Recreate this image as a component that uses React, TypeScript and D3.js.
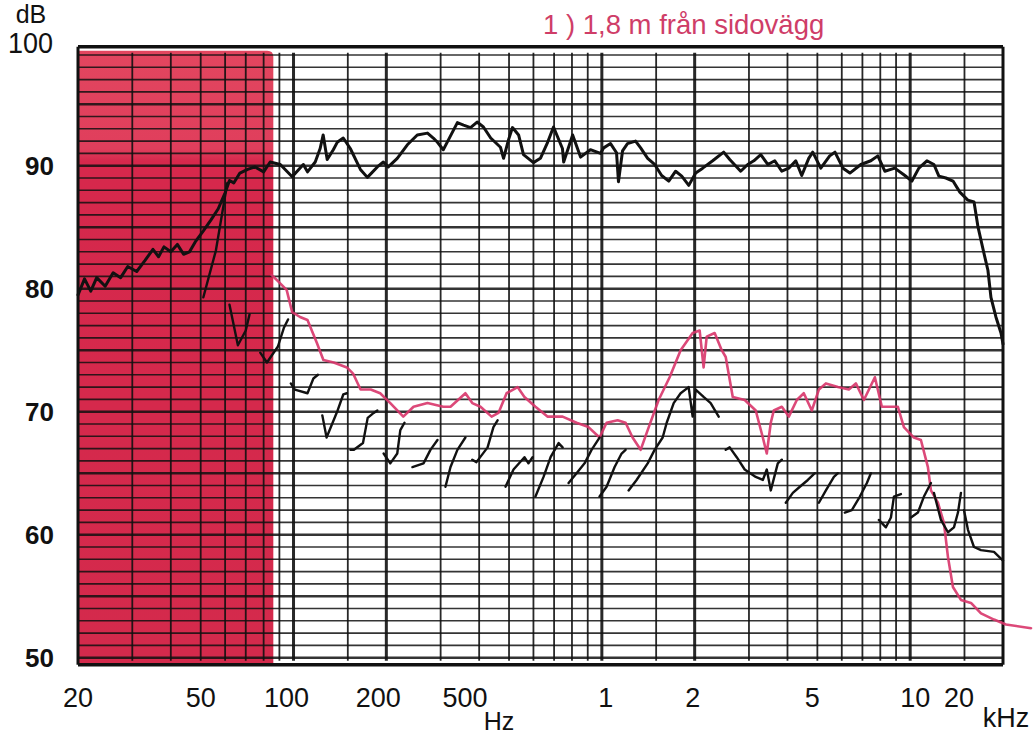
import React from 'react';
import * as d3 from 'd3';

type Pt = [number, number];

// upper black response: [Hz, dB]
const mainCurve: Pt[] = [
  [20, 79.5], [21, 80.8], [22, 79.8], [23, 80.9], [24.5, 80.2], [26, 81.3], [27.5, 80.9],
  [29, 81.8], [31, 81.4], [33, 82.3], [35, 83.2], [36.5, 82.6], [38, 83.4], [40, 83.0],
  [42, 83.6], [44, 82.8], [46, 83.0], [48, 83.8], [51, 84.7], [54, 85.6], [57, 86.5],
  [60, 87.8], [62, 88.8], [64, 88.6], [67, 89.4], [71, 89.7], [75, 89.9], [80, 89.5],
  [84, 90.3], [90.6, 90.1], [99, 89.1], [107.6, 90.1], [111, 89.5], [117.6, 90.3],
  [122, 91.4], [124.8, 92.5], [128.6, 90.5], [134.6, 91.3], [138.6, 91.9], [145, 92.25],
  [152.8, 91.4], [164.8, 89.7], [173.6, 89.05], [187, 89.9], [195.6, 90.3], [203, 89.9],
  [217, 90.6], [234, 91.7], [252, 92.5], [272, 92.65], [284, 92.25], [293, 91.9],
  [306, 91.3], [318, 92.1], [340, 93.5], [356, 93.3], [375, 93.1], [394, 93.55],
  [413, 93.15], [436, 92.25], [469, 91.5], [480, 90.6], [498, 92.1], [513, 93.1],
  [537, 92.5], [557, 90.9], [600, 90.25], [632, 90.6], [667, 91.9], [697, 93.15],
  [745, 91.4], [752, 90.3], [804, 92.5], [853, 90.7], [918, 91.3], [990, 91.0],
  [1014, 91.45], [1067, 91.8], [1116, 91.05], [1132, 88.7], [1167, 91.2], [1211, 91.8],
  [1286, 92.0], [1336, 91.45], [1408, 90.6], [1483, 90.1], [1563, 89.2], [1648, 88.75],
  [1735, 89.55], [1816, 89.15], [1914, 88.4], [2015, 89.4], [2124, 89.8], [2288, 90.4],
  [2484, 91.1], [2599, 90.5], [2820, 89.55], [2972, 90.1], [3111, 90.4], [3277, 90.9],
  [3453, 90.1], [3638, 90.4], [3833, 89.55], [4038, 89.8], [4255, 90.4], [4449, 89.2],
  [4688, 90.6], [4830, 91.1], [5129, 89.8], [5483, 90.8], [5701, 91.1], [6054, 89.8],
  [6375, 89.4], [6919, 90.1], [7453, 90.4], [7853, 90.8], [8275, 89.55], [8913, 89.8],
  [9611, 89.2], [10130, 88.75], [10670, 89.8], [11330, 90.4], [11940, 90.1], [12390, 89.15],
  [13060, 89.0], [13770, 88.75], [14490, 87.85], [15380, 87.2], [16110, 87.05], [16600, 85.0],
  [17340, 82.9], [17870, 81.5], [18280, 79.3], [18970, 77.7], [19700, 76.4], [20000, 75.5],
];

// lower black sweep, null = pen lift
const lowerCurve: (Pt | null)[] = [
  [51, 79.3], [56, 83.1], [61, 88.6], null,
  [62, 78.7], [66, 75.4], [70, 76.6], [72, 77.9], null,
  [78, 74.8], [82, 74.0], [89, 75.3], [93, 76.8], [96, 77.5], null,
  [98, 72.3], [101, 71.8], [111, 71.5], [116, 72.7], [120, 73.0], null,
  [124, 69.7], [128, 67.9], [139, 70.1], [145, 71.4], [149, 71.5], null,
  [153, 66.9], [157, 66.9], [168, 67.45], [174, 69.5], [182, 69.9], [187, 70.1], null,
  [196, 66.6], [206, 65.8], [217, 66.6], [222, 68.5], [229, 69.1], null,
  [243, 65.5], [264, 65.8], [278, 66.9], [293, 67.7], null,
  [311, 63.9], [323, 65.5], [340, 66.9], [361, 67.9], null,
  [380, 66.1], [392, 65.9], [426, 67.1], [445, 68.75], [459, 69.3], null,
  [487, 63.9], [517, 65.3], [561, 66.3], [578, 65.8], [596, 66.3], null,
  [609, 63.1], [647, 64.7], [682, 66.3], [724, 67.45], [746, 67.1], null,
  [780, 64.2], [828, 65.0], [879, 65.8], [926, 66.9], [983, 67.9], null,
  [983, 63.1], [1036, 63.9], [1100, 65.5], [1159, 66.6], [1194, 66.9], null,
  [1221, 63.6], [1296, 64.45], [1408, 65.8], [1483, 66.9], [1575, 67.9], [1623, 69.1],
  [1710, 70.7], [1801, 71.5], [1912, 72.0], [1970, 69.6], [2015, 71.8], [2138, 71.2],
  [2254, 70.7], [2393, 69.6], null,
  [2522, 66.9], [2598, 67.1], [2738, 66.3], [2906, 65.3], [3156, 64.7], [3327, 64.45],
  [3427, 65.3], [3531, 63.6], [3721, 65.8], [3834, 66.1], null,
  [3950, 62.6], [4163, 63.4], [4387, 63.9], [4657, 64.45], [4907, 65.0], null,
  [5057, 62.6], [5329, 63.6], [5657, 64.7], [5829, 65.0], null,
  [6138, 61.8], [6468, 62.0], [6868, 63.1], [7237, 64.2], [7457, 65.0], null,
  [7916, 61.2], [8342, 60.6], [8660, 61.4], [8857, 63.1], [9333, 63.3], null,
  [10058, 61.4], [10595, 61.8], [11081, 63.1], [11677, 64.2], null,
  [11940, 63.4], [12582, 61.2], [13258, 60.2], [13866, 60.6], [14288, 61.8], [14610, 63.4], null,
  [14942, 62.0], [15396, 60.4], [16102, 59.0], [16968, 58.75], [18698, 58.6], [20000, 57.9],
];

// red curve (1,8 m from side wall)
const redCurve: Pt[] = [
  [85, 81.1], [90, 80.5], [95, 79.9], [99, 78.1], [105, 77.7], [111, 77.45], [119, 75.6],
  [125, 74.2], [135, 74.0], [149, 73.6], [156, 73.1], [165, 71.8], [178, 71.8], [191, 71.5],
  [206, 70.7], [227, 69.6], [245, 70.4], [272, 70.7], [306, 70.4], [323, 70.4], [361, 71.5],
  [380, 70.7], [404, 70.4], [439, 69.6], [462, 69.9], [491, 71.5], [533, 72.0], [561, 71.2],
  [609, 70.4], [666, 69.6], [746, 69.6], [828, 69.1], [905, 68.75], [983, 67.9], [1036, 69.1],
  [1125, 69.3], [1194, 69.1], [1258, 67.9], [1336, 66.9], [1408, 68.5], [1528, 70.95],
  [1659, 72.8], [1801, 75.0], [1970, 76.4], [2076, 76.6], [2138, 73.6], [2188, 76.1],
  [2322, 76.4], [2448, 75.0], [2522, 74.45], [2658, 71.2], [2906, 70.95], [3156, 70.1],
  [3327, 67.9], [3427, 66.6], [3531, 69.1], [3611, 70.1], [3834, 70.4], [4040, 69.6],
  [4289, 70.95], [4518, 71.5], [4796, 70.1], [5057, 71.8], [5329, 72.3], [5829, 72.0],
  [6325, 71.8], [6665, 72.3], [7077, 70.95], [7682, 72.8], [8094, 70.4], [8789, 70.4],
  [9122, 70.4], [9541, 68.75], [10280, 67.9], [10834, 67.7], [11416, 65.5], [11677, 63.6],
  [12304, 62.6], [12868, 60.95], [13258, 58.2], [13762, 55.75], [14610, 54.7], [15748, 54.45],
  [16968, 53.6], [18698, 53.1], [20450, 52.7], [24660, 52.4],
];

const yTicks = [100, 90, 80, 70, 60, 50];
const xTickFreqs = [20, 50, 100, 200, 500, 1000, 2000, 5000, 10000, 20000];
const xTickLabels = ['20', '50', '100', '200', '500', '1', '2', '5', '10', '20'];
const decades = [10, 100, 1000, 10000];
const gridSteps = [1, 1.5, 2, 3, 4, 5, 6, 7, 8, 9];
const heavyFreqs = [100, 200, 1000, 2000, 10000];
const shadedRange = [20, 86]; // Hz, red block
const title = '1 ) 1,8 m från sidovägg';

const W = 1034;
const H = 737;
const FONT = '"Liberation Sans", Arial, sans-serif';

// where the printed labels actually sit relative to their grid line
const labelNudge: Record<string, number> = { '100': -7, '200': -8, '500': -44, '1': 4, '2': -2, '5': -5, '10': 5, '20k': -44 };

export default function App() {
  const x = d3.scaleLog().domain([20, 20000]).range([78, 1003]);
  const y = d3.scaleLinear().domain([50, 100]).range([657.7, 42.7]);

  const gridFreqs: number[] = [];
  decades.forEach(d => gridSteps.forEach(m => {
    const f = d * m;
    if (f > 20 && f < 20000) gridFreqs.push(f);
  }));
  const dbLines = d3.range(50, 100);

  const line = d3.line<Pt>().x(d => x(d[0])).y(d => y(d[1]));
  const gapLine = d3.line<Pt | null>()
    .defined(d => d !== null)
    .x(d => x((d as Pt)[0]))
    .y(d => y((d as Pt)[1]));

  const top = y(100) + 4;
  const bottom = y(50) + 7;
  const left = x(20);
  const right = x(20000);
  const base100 = y(100) + 10;

  return (
    <svg width={W} height={H} viewBox={`0 0 ${W} ${H}`}
      style={{ position: 'fixed', left: 0, top: 0, background: '#fff' }}>
      <defs>
        <linearGradient id="redFill" x1="0" y1="0" x2="0" y2="1">
          <stop offset="0" stopColor="#e2465f" />
          <stop offset="0.16" stopColor="#e03e5c" />
          <stop offset="0.18" stopColor="#d6284c" />
          <stop offset="1" stopColor="#d42a4c" />
        </linearGradient>
      </defs>

      {/* red low-frequency block */}
      <path
        d={`M${left},${top + 4} H${x(shadedRange[1]) - 6} Q${x(shadedRange[1])},${top + 4} ${x(shadedRange[1])},${top + 10} V${bottom} H${left} Z`}
        fill="url(#redFill)" />

      {/* horizontal grid, 1 dB */}
      {dbLines.map(v => (
        <line key={'h' + v} x1={left} x2={right} y1={y(v)} y2={y(v)}
          stroke="#111" strokeOpacity={0.85} strokeWidth={v % 5 === 0 ? 2.6 : 1.6} />
      ))}
      {/* vertical grid */}
      {gridFreqs.map(f => (
        <line key={'v' + f} x1={x(f)} x2={x(f)} y1={top + 6} y2={bottom - 4}
          stroke="#111" strokeOpacity={0.9} strokeWidth={heavyFreqs.includes(f) ? 3 : 1.8} />
      ))}

      {/* frame */}
      <line x1={left} x2={right} y1={top} y2={top} stroke="#111" strokeWidth={3.5} />
      <line x1={left} x2={right} y1={bottom} y2={bottom} stroke="#111" strokeWidth={3.5} />
      <line x1={left} x2={left} y1={top} y2={bottom} stroke="#111" strokeWidth={3} />
      <line x1={right} x2={right} y1={top} y2={bottom} stroke="#111" strokeWidth={3} />

      {/* curves */}
      <path d={line(redCurve) || ''} fill="none" stroke="#d8356a" strokeWidth={2.6}
        strokeLinejoin="round" strokeLinecap="round" strokeOpacity={0.9} />
      <path d={gapLine(lowerCurve) || ''} fill="none" stroke="#111" strokeWidth={2.4}
        strokeLinejoin="round" strokeLinecap="round" />
      <path d={line(mainCurve) || ''} fill="none" stroke="#111" strokeWidth={3}
        strokeLinejoin="round" strokeLinecap="round" />

      {/* y labels */}
      <g fontFamily={FONT} fill="#111">
        <text x={31} y={23} fontSize={25} textAnchor="middle">dB</text>
        {yTicks.map(v => v === 100 ? (
          <text key={v} x={53} y={base100} fontSize={27} textAnchor="end"
            transform={`translate(0,${base100}) scale(1,1.12) translate(0,${-base100})`}>100</text>
        ) : (
          <text key={v} x={54} y={y(v) + 9} fontSize={26} fontWeight="bold" textAnchor="end">{v}</text>
        ))}
      </g>

      {/* x labels */}
      <g fontFamily={FONT} fill="#111" fontSize={27} textAnchor="middle">
        {xTickFreqs.map((f, i) => {
          const lab = xTickLabels[i];
          const key = f === 20000 ? '20k' : lab;
          return (
            <text key={f} x={x(f) + (labelNudge[key] || 0)} y={707}>{lab}</text>
          );
        })}
        <text x={499} y={730} fontSize={25}>Hz</text>
        <text x={1006} y={727}>kHz</text>
      </g>

      <text x={543} y={34} fontFamily={FONT} fontSize={27.5} fill="#cf3d68">{title}</text>
    </svg>
  );
}
